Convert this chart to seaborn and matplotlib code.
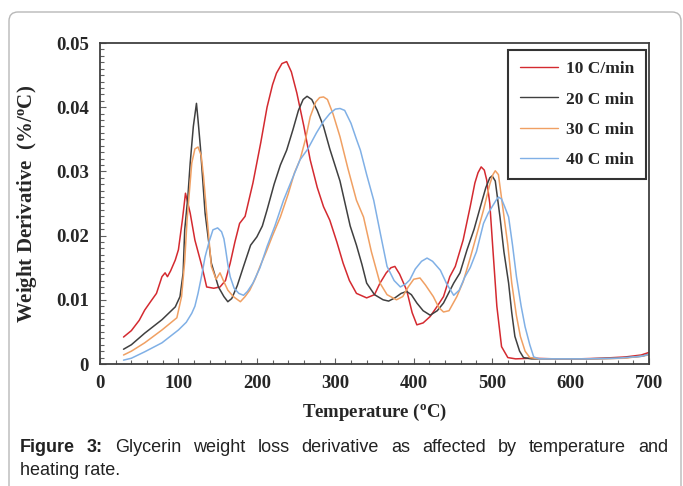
import numpy as np
import pandas as pd
import matplotlib
matplotlib.use('Agg')
import matplotlib.pyplot as plt
import seaborn as sns
from matplotlib.patches import FancyBboxPatch
from matplotlib.transforms import IdentityTransform
from matplotlib.ticker import MultipleLocator, FuncFormatter

# Weight derivative readings, values in units of 0.001 %/C
t_10 = [30, 40, 50, 57, 65, 72, 79, 83, 86, 90, 96, 100, 105, 109, 115, 121, 130, 136, 145,
        153, 160, 166, 172, 178, 185, 195, 205, 213, 220, 225, 232, 238, 244, 251, 260, 268,
        277, 285, 293, 302, 310, 318, 327, 340, 350, 357, 365, 371, 376, 382, 391, 398, 404,
        412, 421, 430, 438, 446, 453, 463, 472, 478, 482, 486, 490, 493, 497, 501, 506, 512,
        520, 530, 550, 580, 610, 640, 670, 690, 700]
d_10 = [4.2, 5.2, 6.8, 8.4, 9.8, 11.0, 13.6, 14.2, 13.6, 14.5, 16.2, 17.8, 22.4, 26.6, 23.5,
        19.3, 15.2, 12.0, 11.8, 12.0, 13.0, 15.7, 19.0, 21.9, 23.0, 28.2, 34.5, 40.0, 43.5,
        45.3, 46.8, 47.1, 45.5, 42.2, 37.0, 31.8, 27.5, 24.5, 22.4, 19.0, 15.7, 13.0, 11.0,
        10.3, 10.8, 12.6, 14.2, 15.0, 15.2, 14.0, 11.5, 8.0, 6.1, 6.4, 7.4, 9.0, 10.5, 13.6,
        15.2, 19.3, 24.5, 28.2, 29.8, 30.7, 30.2, 28.7, 25.0, 17.8, 9.0, 2.7, 1.0, 0.8, 0.9,
        0.8, 0.8, 0.9, 1.1, 1.4, 1.8]

t_20 = [30, 40, 57, 79, 96, 102, 106, 108, 112, 115, 119, 123, 125, 128, 134, 142, 151, 158,
        163, 168, 175, 183, 192, 200, 207, 213, 222, 230, 238, 246, 253, 259, 264, 270, 277,
        285, 293, 306, 319, 327, 334, 340, 350, 361, 368, 376, 384, 391, 397, 404, 412, 421,
        430, 438, 451, 459, 468, 477, 485, 492, 497, 500, 504, 510, 515, 521, 525, 529, 535,
        540, 550, 580, 620, 660, 690, 700]
d_20 = [2.3, 3.0, 4.8, 6.9, 8.9, 10.5, 14.2, 20.9, 26.0, 31.3, 37.0, 40.6, 38.0, 33.8, 23.5,
        15.7, 12.0, 10.5, 9.7, 10.2, 12.2, 15.2, 18.5, 19.8, 21.5, 24.0, 28.0, 31.0, 33.3,
        36.5, 39.5, 41.2, 41.7, 41.2, 39.5, 37.0, 33.5, 28.5, 21.5, 18.5, 15.5, 12.6, 10.8,
        10.0, 9.8, 10.3, 11.0, 11.3, 10.8, 9.5, 8.3, 7.6, 8.3, 9.5, 12.6, 14.2, 17.8, 21.0,
        24.5, 27.5, 29.0, 29.3, 28.5, 22.9, 17.5, 12.6, 8.0, 4.3, 2.0, 1.0, 0.8, 0.8, 0.8,
        0.9, 1.2, 1.5]

t_30 = [30, 40, 57, 79, 98, 104, 108, 111, 117, 121, 125, 129, 132, 136, 142, 148, 153, 158,
        163, 170, 179, 185, 191, 198, 204, 212, 220, 230, 240, 248, 255, 262, 268, 275, 280,
        285, 290, 297, 306, 316, 327, 336, 346, 357, 366, 378, 386, 393, 400, 408, 415, 425,
        432, 438, 445, 455, 463, 472, 480, 489, 497, 501, 504, 508, 514, 520, 525, 531, 536,
        542, 548, 560, 590, 630, 670, 700]
d_30 = [1.4, 2.0, 3.3, 5.3, 7.2, 10.5, 16.0, 22.4, 31.3, 33.5, 33.8, 32.5, 29.2, 23.5, 15.2,
        13.2, 14.2, 12.8, 11.5, 10.5, 9.7, 10.5, 11.5, 13.3, 15.2, 17.5, 20.0, 22.9, 26.5,
        29.8, 31.8, 35.0, 38.5, 40.8, 41.5, 41.6, 41.2, 39.0, 35.4, 30.5, 25.5, 22.9, 17.5,
        12.6, 10.8, 10.0, 10.5, 12.0, 13.2, 13.4, 12.3, 10.5, 8.8, 8.1, 8.3, 10.5, 12.8, 16.5,
        20.0, 24.0, 28.0, 29.5, 30.1, 29.5, 24.0, 18.5, 12.6, 7.5, 4.3, 2.0, 1.0, 0.8, 0.8,
        0.8, 0.9, 1.4]

t_40 = [30, 40, 57, 79, 100, 110, 117, 121, 125, 130, 134, 139, 144, 150, 155, 158, 160, 163,
        166, 171, 177, 183, 188, 195, 204, 213, 223, 234, 245, 255, 265, 276, 285, 293, 300,
        306, 312, 320, 327, 332, 340, 349, 358, 366, 375, 383, 390, 395, 402, 410, 417, 424,
        434, 442, 451, 458, 465, 472, 480, 489, 495, 500, 505, 508, 512, 516, 521, 526, 531,
        537, 542, 548, 553, 560, 580, 620, 660, 690, 700]
d_40 = [0.6, 0.9, 1.9, 3.3, 5.3, 6.5, 7.9, 9.0, 11.0, 14.0, 16.7, 19.0, 20.9, 21.2, 20.6,
        19.5, 18.0, 15.5, 13.6, 11.8, 11.0, 10.7, 11.3, 12.6, 15.0, 18.3, 21.5, 25.5, 28.8,
        31.8, 33.5, 36.0, 37.8, 39.0, 39.7, 39.8, 39.5, 37.5, 35.0, 33.3, 29.5, 25.5, 20.0,
        15.2, 13.0, 12.0, 12.5, 13.1, 14.8, 16.0, 16.5, 16.0, 14.6, 12.5, 10.7, 11.5, 13.5,
        15.0, 17.5, 21.9, 23.5, 24.5, 25.5, 26.0, 25.7, 24.5, 22.9, 18.5, 13.6, 9.0, 5.8,
        3.0, 1.1, 0.8, 0.8, 0.8, 0.9, 1.2, 1.5]

rates = ['10 C/min', '20 C min', '30 C min', '40 C min']
temps = [t_10, t_20, t_30, t_40]
derivs = [d_10, d_20, d_30, d_40]
colors = ['#d42a30', '#404040', '#f0a063', '#80b0e6']

frames = []
for r, t, d in zip(rates, temps, derivs):
    frames.append(pd.DataFrame({'temp': t, 'deriv': np.array(d) * 1e-3, 'rate': r}))
df = pd.concat(frames, ignore_index=True)

sns.set_theme(style='white')
plt.rcParams['font.family'] = ['Liberation Serif', 'DejaVu Serif']
plt.rcParams['mathtext.fontset'] = 'custom'
plt.rcParams['mathtext.rm'] = 'Liberation Serif:bold'

fig = plt.figure(figsize=(6.83, 4.86), dpi=100)
ax = fig.add_axes([100 / 683, 1 - 364 / 486, 549 / 683, 321 / 486])

sns.lineplot(data=df, x='temp', y='deriv', hue='rate', palette=colors,
             sort=False, estimator=None, linewidth=1.1, ax=ax)

ax.set_xlim(0, 700)
ax.set_ylim(0, 0.05)
ax.xaxis.set_major_locator(MultipleLocator(100))
ax.xaxis.set_minor_locator(MultipleLocator(20))
ax.yaxis.set_major_locator(MultipleLocator(0.01))
ax.yaxis.set_minor_locator(MultipleLocator(0.001))
ax.yaxis.set_major_formatter(FuncFormatter(lambda v, p: f'{v:g}'))
ax.tick_params(which='both', direction='in', bottom=True, left=True, top=False, right=False,
               color='#606060', width=0.8)
ax.tick_params(which='major', length=4, labelsize=13.5, pad=8)
ax.tick_params(which='minor', length=3)
for lab in ax.get_xticklabels() + ax.get_yticklabels():
    lab.set_fontweight('bold')
for sp in ax.spines.values():
    sp.set_color('#404040')
    sp.set_linewidth(1.3)

ax.set_xlabel(r'Temperature ($\mathrm{^o}$C)', fontsize=13.5, fontweight='bold', labelpad=7)
ax.set_ylabel(r'Weight Derivative  (%/$\mathrm{^o}$C)', fontsize=15, fontweight='bold', labelpad=12)

handles, labels = ax.get_legend_handles_labels()
leg = ax.legend(handles, labels, loc='upper right', bbox_to_anchor=(0.9945, 0.978),
                borderaxespad=0, frameon=True, fancybox=False,
                handlelength=2.2, handletextpad=0.5, labelspacing=0.8,
                borderpad=0.65, prop={'weight': 'bold', 'size': 12.5})
leg.get_frame().set_edgecolor('black')
leg.get_frame().set_linewidth(1.5)
for h in leg.get_lines():
    h.set_linewidth(1.0)

# outer rounded frame
frame = FancyBboxPatch((9, -30), 672, 486 - 12 + 30, boxstyle='round,pad=0,rounding_size=9',
                       transform=IdentityTransform(), facecolor='none', edgecolor='#b8b8b8',
                       linewidth=1.0)
fig.patches.append(frame)

# caption, first line justified
cap_words = ['Figure', '3:', 'Glycerin', 'weight', 'loss', 'derivative', 'as', 'affected',
             'by', 'temperature', 'and']
fig.canvas.draw()
renderer = fig.canvas.get_renderer()
texts = []
for i, w in enumerate(cap_words):
    t = fig.text(0, 0, w, fontsize=13, family='Liberation Sans',
                 fontweight='bold' if i < 2 else 'normal', va='baseline', color='#222222')
    texts.append(t)
widths = [t.get_window_extent(renderer).width for t in texts]
x0, x1 = 20, 668
gap = (x1 - x0 - sum(widths)) / (len(texts) - 1)
x = x0
for t, w in zip(texts, widths):
    t.set_position((x / 683, 1 - 452 / 486))
    x += w + gap
fig.text(20 / 683, 1 - 475 / 486, 'heating rate.', fontsize=13, family='Liberation Sans',
         va='baseline', color='#222222')

fig.savefig('out.png', dpi=100)
